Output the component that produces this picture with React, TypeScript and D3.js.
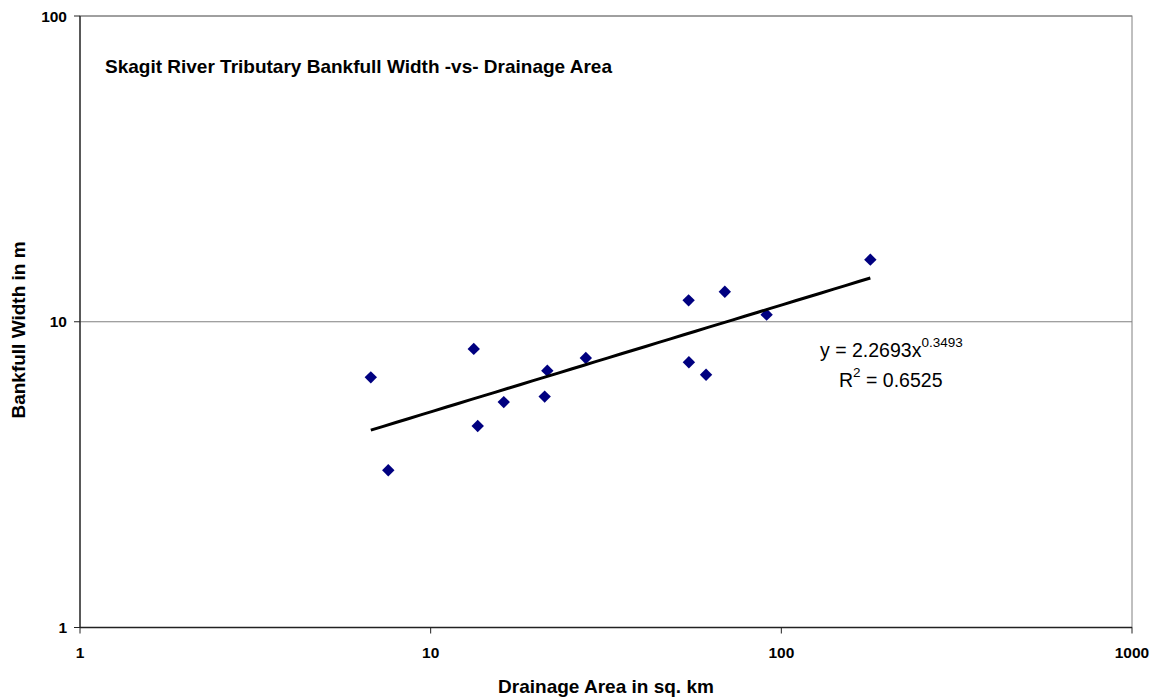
import React from "react";
import * as d3 from "d3";

// Drainage area (sq. km) and bankfull width (m) for each tributary site
const drainageArea = [6.75, 7.57, 13.27, 13.62, 16.16, 21.14, 21.51, 27.7, 54.4, 54.5, 61.0, 69.0, 90.8, 179.4];
const bankfullWidth = [6.58, 3.27, 8.15, 4.56, 5.46, 5.69, 6.92, 7.61, 11.75, 7.37, 6.71, 12.54, 10.55, 15.96];

// Power-law fit y = a * x^b
const fitCoef = 2.2693;
const fitExp = 0.3493;
const rSquared = "0.6525";

const xTicks = [1, 10, 100, 1000];
const yTicks = [1, 10, 100];

const W = 1156;
const H = 697;
const M = { left: 80, right: 1132, top: 16, bottom: 627.5 };
const FONT = "Liberation Sans, Arial, sans-serif";

export default function App() {
  const x = d3.scaleLog().domain([1, 1000]).range([M.left, M.right]);
  const y = d3.scaleLog().domain([1, 100]).range([M.bottom, M.top]);

  const xMin = d3.min(drainageArea)!;
  const xMax = d3.max(drainageArea)!;
  const fitPts: [number, number][] = d3
    .range(0, 41)
    .map((i) => xMin * Math.pow(xMax / xMin, i / 40))
    .map((v) => [x(v), y(fitCoef * Math.pow(v, fitExp))]);
  const fitLine = d3.line()(fitPts) || "";

  const diamond = d3.symbol().type(d3.symbolDiamond2).size(98)() || "";

  return (
    <svg
      width={W}
      height={H}
      style={{ position: "absolute", left: 0, top: 0, background: "#fff" }}
      fontFamily={FONT}
    >
      {/* plot area frame and gridlines */}
      <rect
        x={M.left}
        y={M.top}
        width={M.right - M.left}
        height={M.bottom - M.top}
        fill="none"
        stroke="#808080"
        strokeWidth={1}
      />
      {yTicks.slice(1).map((t) => (
        <line key={t} x1={M.left} x2={M.right} y1={y(t)} y2={y(t)} stroke="#808080" strokeWidth={1} />
      ))}

      {/* axes */}
      <line x1={M.left} x2={M.left} y1={M.top} y2={M.bottom} stroke="#222" strokeWidth={1.3} />
      <line x1={M.left} x2={M.right} y1={M.bottom} y2={M.bottom} stroke="#222" strokeWidth={1.3} />
      {xTicks.map((t) => (
        <g key={"x" + t}>
          <line x1={x(t)} x2={x(t)} y1={M.bottom} y2={M.bottom + 6} stroke="#222" strokeWidth={1} />
          <text x={x(t)} y={658} textAnchor="middle" fontSize={15.5} fontWeight="bold">
            {t}
          </text>
        </g>
      ))}
      {yTicks.map((t) => (
        <g key={"y" + t}>
          <line x1={M.left - 6} x2={M.left} y1={y(t)} y2={y(t)} stroke="#222" strokeWidth={1} />
          <text x={M.left - 13} y={y(t) + 5.5} textAnchor="end" fontSize={15.5} fontWeight="bold">
            {t}
          </text>
        </g>
      ))}

      {/* axis titles */}
      <text x={606} y={692.5} textAnchor="middle" fontSize={19} fontWeight="bold">
        Drainage Area in sq. km
      </text>
      <text
        transform={`translate(25, 330) rotate(-90)`}
        textAnchor="middle"
        fontSize={19}
        fontWeight="bold"
      >
        Bankfull Width in m
      </text>

      {/* chart title */}
      <text x={105} y={72.5} fontSize={19} fontWeight="bold">
        Skagit River Tributary Bankfull Width -vs- Drainage Area
      </text>

      {/* data points */}
      {drainageArea.map((a, i) => (
        <path
          key={i}
          d={diamond}
          transform={`translate(${x(a)}, ${y(bankfullWidth[i])})`}
          fill="#000080"
        />
      ))}

      {/* trendline */}
      <path d={fitLine} fill="none" stroke="#000" strokeWidth={3} />

      {/* trendline equation */}
      <text x={820} y={357} fontSize={19.5}>
        y = {fitCoef}x
        <tspan dy={-10} fontSize={13.5}>
          {fitExp}
        </tspan>
      </text>
      <text x={839} y={387} fontSize={19.5}>
        R<tspan dy={-10} fontSize={13.5}>2</tspan>
        <tspan dy={10}> = {rSquared}</tspan>
      </text>
    </svg>
  );
}
